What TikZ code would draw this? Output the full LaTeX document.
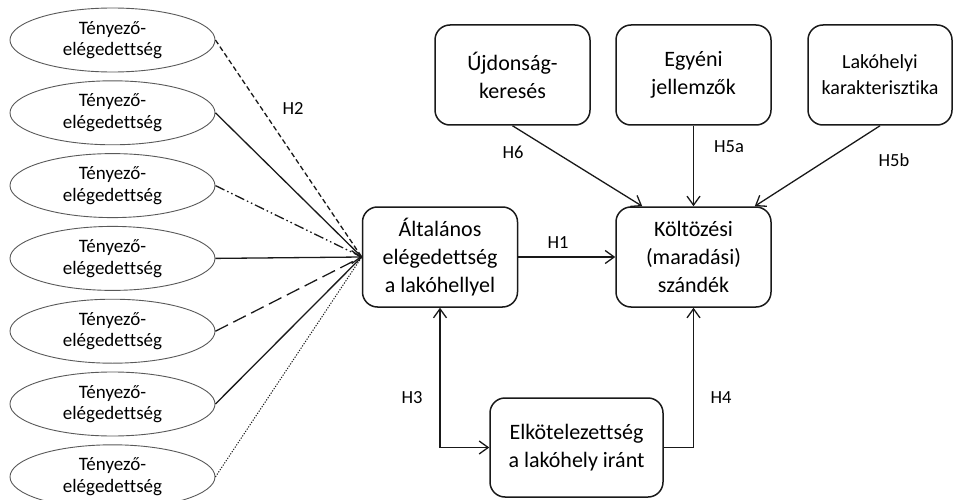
\documentclass[tikz,border=0pt]{standalone}
\usepackage{fontspec}
\setmainfont[Ligatures={NoCommon}]{Carlito}
\usetikzlibrary{arrows.meta,shapes.geometric}

\tikzset{
  factor/.style={ellipse, draw=black!65, line width=0.9pt, minimum width=205pt,
    minimum height=64pt, inner sep=0pt, align=center,
    font=\fontsize{19}{21.5}\selectfont},
  rbox/.style={draw=black!90, line width=1.5pt, rounded corners=15pt,
    minimum width=155pt, minimum height=100pt, inner sep=0pt, align=center,
    font=\fontsize{22}{28}\selectfont},
  wire/.style={draw=black!90, line width=1.3pt},
  link/.style={wire, -{Straight Barb[length=9pt,width=13pt]}},
  hyp/.style={font=\fontsize{18.5}{22}\selectfont},
}

\begin{document}
\begin{tikzpicture}[x=1pt,y=-1pt]
\useasboundingbox (0,0) rectangle (953,500);

% factor satisfaction ellipses
\foreach \i in {1,...,7}{
  \node[factor] (f\i) at (112.5,{40+72.8*(\i-1)}) {Tényező-\\elégedettség};
}

% construct boxes
\node[rbox] (alt) at (440,257) {Általános\\elégedettség\\a lakóhellyel};
\node[rbox] (kolt) at (693.5,257) {Költözési\\(maradási)\\szándék};
\node[rbox] (ujd) at (512.5,75) {Újdonság-\\keresés};
\node[rbox] (egy) at (693.5,75) {Egyéni\\jellemzők};
\node[rbox, minimum width=144pt, font=\fontsize{20}{26}\selectfont] (lak) at (880,75) {Lakóhelyi\\karakterisztika};
\node[rbox, minimum width=173pt, minimum height=99pt] (elk) at (576.5,447.5) {Elkötelezettség\\a lakóhely iránt};

% H2: factor satisfaction -> general satisfaction (fan of lines)
\draw[wire, dash pattern=on 5pt off 3pt] (f1.east) -- (alt.west);
\draw[wire] (f2.east) -- (alt.west);
\draw[wire, dash pattern=on 10pt off 3pt on 1.5pt off 3pt on 1.5pt off 3pt] (f3.east) -- (alt.west);
\draw[link] (f4.east) -- (alt.west);
\draw[wire, dash pattern=on 14pt off 6pt] (f5.east) -- (alt.west);
\draw[wire] (f6.east) -- (alt.west);
\draw[wire, line width=1pt, dash pattern=on 1.2pt off 1.5pt] (f7.east) -- (alt.west);

% remaining hypotheses
\draw[link] (alt.east) -- (kolt.west);
\draw[link] (ujd.south) -- ([xshift=27pt]kolt.north west);
\draw[link] (egy.south) -- (kolt.north);
\draw[link] (lak.south) -- ([xshift=-17pt]kolt.north east);
\draw[link, {Straight Barb[length=9pt,width=13pt]}-{Straight Barb[length=9pt,width=13pt]}] (alt.south) |- (elk.west);
\draw[link] (elk.east) -| (kolt.south);

% hypothesis labels
\node[hyp] (h2) at (293,108) {H2};
\node[hyp] (h1) at (558,243) {H1};
\node[hyp] (h6) at (513,152) {H6};
\node[hyp] (h5a) at (729,147) {H5a};
\node[hyp] (h5b) at (894,160) {H5b};
\node[hyp] (h3) at (412,398) {H3};
\node[hyp] (h4) at (721,398) {H4};
\end{tikzpicture}
\end{document}
